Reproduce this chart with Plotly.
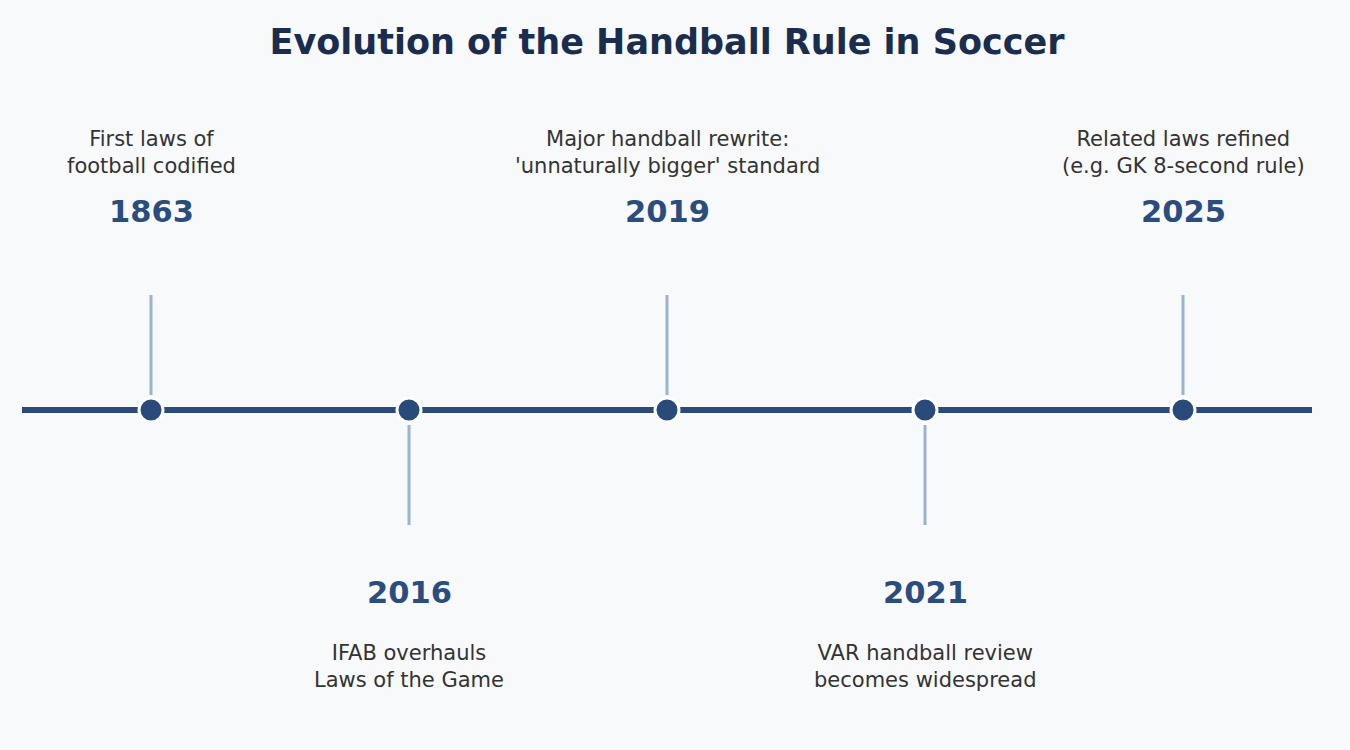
import plotly.graph_objects as go

# ---- data ----
years = ["1863", "2016", "2019", "2021", "2025"]
descriptions = [
    "First laws of<br>football codified",
    "IFAB overhauls<br>Laws of the Game",
    "Major handball rewrite:<br>'unnaturally bigger' standard",
    "VAR handball review<br>becomes widespread",
    "Related laws refined<br>(e.g. GK 8-second rule)",
]
title_text = "Evolution of the Handball Rule in Soccer"

# ---- styling constants ----
BG = "#f8f9fb"
LINE_COLOR = "#2a4a7a"
STEM_COLOR = "#9ab3d1"
YEAR_COLOR = "#2a4d7e"
DESC_COLOR = "#333333"
TITLE_COLOR = "#1b2d4e"
FONT = "DejaVu Sans"

xs = list(range(len(years)))
sides = [1 if i % 2 == 0 else -1 for i in xs]

STEM_START = 15
STEM_END = 115
YEAR_OFF_UP = 199
YEAR_OFF_DOWN = 182
DESC_OFF_UP = 258
DESC_OFF_DOWN = 256

fig = go.Figure()

# main timeline
fig.add_trace(go.Scatter(
    x=[-0.5, len(years) - 0.5], y=[0, 0], mode="lines",
    line=dict(color=LINE_COLOR, width=6), hoverinfo="skip", showlegend=False,
))

# stems
sx, sy = [], []
for x, s in zip(xs, sides):
    sx += [x, x, None]
    sy += [s * STEM_START, s * STEM_END, None]
fig.add_trace(go.Scatter(
    x=sx, y=sy, mode="lines",
    line=dict(color=STEM_COLOR, width=3), hoverinfo="skip", showlegend=False,
))

# markers
fig.add_trace(go.Scatter(
    x=xs, y=[0] * len(xs), mode="markers",
    marker=dict(size=24, color=LINE_COLOR, line=dict(color="white", width=3)),
    text=[f"{y}: {d.replace('<br>', ' ')}" for y, d in zip(years, descriptions)],
    hoverinfo="text", showlegend=False,
))

for x, s, yr, d in zip(xs, sides, years, descriptions):
    fig.add_annotation(
        x=x, y=(YEAR_OFF_UP if s > 0 else -YEAR_OFF_DOWN), text=f"<b>{yr}</b>", showarrow=False,
        font=dict(family=FONT, size=30.5, color=YEAR_COLOR),
        xanchor="center", yanchor="middle",
    )
    fig.add_annotation(
        x=x, y=(DESC_OFF_UP if s > 0 else -DESC_OFF_DOWN), text=d, showarrow=False,
        font=dict(family=FONT, size=21, color=DESC_COLOR),
        xanchor="center", yanchor="middle",
    )

fig.update_layout(
    width=1350, height=750,
    margin=dict(l=0, r=0, t=0, b=0),
    paper_bgcolor=BG, plot_bgcolor=BG,
    title=dict(
        text=f"<b>{title_text}</b>", x=667 / 1350, xanchor="center", xref="paper",
        y=1 - 42 / 750, yanchor="middle",
        font=dict(family=FONT, size=35, color=TITLE_COLOR),
    ),
    xaxis=dict(range=[-151 / 258, -151 / 258 + 1350 / 258], visible=False, fixedrange=True),
    yaxis=dict(range=[-340, 410], visible=False, fixedrange=True),
    font=dict(family=FONT),
)

fig.write_html(
    "out.html",
    config={"displayModeBar": False},
    post_script="document.body.style.margin='0';document.body.style.background='" + BG + "';",
)
